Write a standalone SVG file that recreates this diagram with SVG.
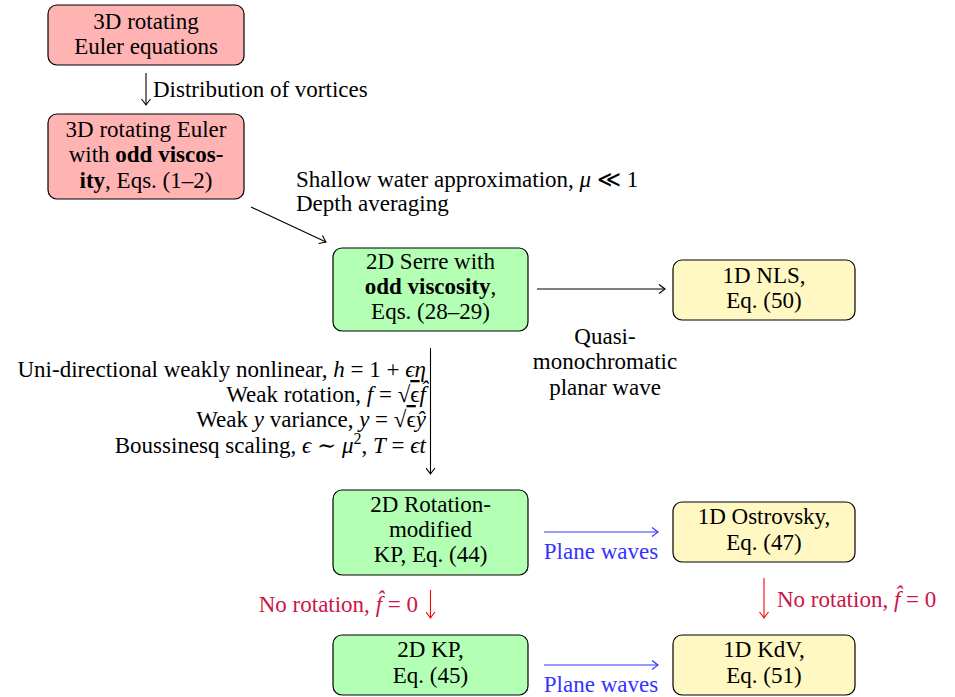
<svg xmlns="http://www.w3.org/2000/svg" width="955" height="697" viewBox="0 0 955 697" font-family="'Liberation Serif', 'Times New Roman', 'DejaVu Serif', serif" font-size="23">
<defs>
<style>
.c{text-anchor:middle}
.r{text-anchor:end}
.b{font-weight:bold}
.i{font-style:italic}
.box{stroke:#000;stroke-width:1.2}
.red{fill:#ffb3b3}
.green{fill:#b3ffb3}
.yel{fill:#fff8c2}
.ln{fill:none;stroke:#000;stroke-width:1.1}
.bl{stroke:#3333ff}
.rd{stroke:#ff0000}
.tb{fill:#3333ff}
.tr{fill:#cc1447}
</style>
<marker id="ak" viewBox="-8 -5 10 10" refX="0" refY="0" markerWidth="10" markerHeight="10" markerUnits="userSpaceOnUse" orient="auto">
<path d="M-6,-4.5 Q-1.5,-1 0,0 Q-1.5,1 -6,4.5" fill="none" stroke="#000" stroke-width="1.1"/>
</marker>
<marker id="ab" viewBox="-8 -5 10 10" refX="0" refY="0" markerWidth="10" markerHeight="10" markerUnits="userSpaceOnUse" orient="auto">
<path d="M-6,-4.5 Q-1.5,-1 0,0 Q-1.5,1 -6,4.5" fill="none" stroke="#3333ff" stroke-width="1.1"/>
</marker>
<marker id="ar" viewBox="-8 -5 10 10" refX="0" refY="0" markerWidth="10" markerHeight="10" markerUnits="userSpaceOnUse" orient="auto">
<path d="M-6,-4.5 Q-1.5,-1 0,0 Q-1.5,1 -6,4.5" fill="none" stroke="#ff0000" stroke-width="1.1"/>
</marker>
</defs>
<rect width="955" height="697" fill="#fff"/>

<g id="connectors">
<g id="e-A-B">
<line class="ln" x1="146" y1="73" x2="146" y2="105" marker-end="url(#ak)"/>
<text x="153" y="97">Distribution of vortices</text>
</g>
<g id="e-B-C">
<line class="ln" x1="251" y1="207" x2="326" y2="242" marker-end="url(#ak)"/>
<text x="296" y="187">Shallow water approximation, <tspan class="i">μ</tspan> ≪ 1</text>
<text x="296" y="211">Depth averaging</text>
</g>
<g id="e-C-D">
<line class="ln" x1="537" y1="289" x2="665" y2="289" marker-end="url(#ak)"/>
<text class="c" x="605" y="344">Quasi-</text>
<text class="c" x="605" y="369">monochromatic</text>
<text class="c" x="605" y="395">planar wave</text>
</g>
<g id="e-C-E">
<line class="ln" x1="430.5" y1="348" x2="430.5" y2="474" marker-end="url(#ak)"/>
<text class="r" x="426" y="377">Uni-directional weakly nonlinear, <tspan class="i">h</tspan> = 1 + <tspan class="i">ϵη</tspan></text>
<text class="r" x="426" y="402">Weak rotation, <tspan class="i">f</tspan> = √<tspan text-decoration="overline">ϵ</tspan><tspan class="i">f̂</tspan></text>
<text class="r" x="426" y="427">Weak <tspan class="i">y</tspan> variance, <tspan class="i">y</tspan> = √<tspan text-decoration="overline">ϵ</tspan><tspan class="i">ŷ</tspan></text>
<text class="r" x="426" y="453">Boussinesq scaling, <tspan class="i">ϵ</tspan> ∼ <tspan class="i">μ</tspan><tspan font-size="16" dy="-9">2</tspan><tspan dy="9">, </tspan><tspan class="i">T</tspan> = <tspan class="i">ϵt</tspan></text>
</g>
<g id="e-E-F">
<line class="ln bl" x1="544" y1="532" x2="658" y2="532" marker-end="url(#ab)"/>
<text class="c tb" x="601" y="559">Plane waves</text>
</g>
<g id="e-E-G">
<line class="ln rd" x1="430.5" y1="590" x2="430.5" y2="618" marker-end="url(#ar)"/>
<text class="r tr" x="418" y="612">No rotation, <tspan class="i">f̂</tspan> = 0</text>
</g>
<g id="e-F-H">
<line class="ln rd" x1="764" y1="578" x2="764" y2="618" marker-end="url(#ar)"/>
<text class="tr" x="777" y="607">No rotation, <tspan class="i">f̂</tspan> = 0</text>
</g>
<g id="e-G-H">
<line class="ln bl" x1="544" y1="665" x2="658" y2="665" marker-end="url(#ab)"/>
<text class="c tb" x="601" y="692">Plane waves</text>
</g>
</g>

<g id="n-A">
<rect class="box red" x="48" y="5" width="196" height="60" rx="9"/>
<text class="c" x="146" y="29">3D rotating</text>
<text class="c" x="146" y="54">Euler equations</text>
</g>
<g id="n-B">
<rect class="box red" x="48" y="114" width="196" height="85" rx="9"/>
<text class="c" x="146" y="137">3D rotating Euler</text>
<text class="c" x="146" y="162">with <tspan class="b">odd viscos-</tspan></text>
<text class="c" x="146" y="188"><tspan class="b">ity</tspan>, Eqs. (1–2)</text>
</g>
<g id="n-C">
<rect class="box green" x="333" y="248" width="195" height="83" rx="9"/>
<text class="c" x="430.5" y="269">2D Serre with</text>
<text class="c" x="430.5" y="294"><tspan class="b">odd viscosity</tspan>,</text>
<text class="c" x="430.5" y="319">Eqs. (28–29)</text>
</g>
<g id="n-D">
<rect class="box yel" x="673" y="260" width="182" height="60" rx="9"/>
<text class="c" x="764" y="283">1D NLS,</text>
<text class="c" x="764" y="308">Eq. (50)</text>
</g>
<g id="n-E">
<rect class="box green" x="333" y="490" width="195" height="85" rx="9"/>
<text class="c" x="430.5" y="512">2D Rotation-</text>
<text class="c" x="430.5" y="537">modified</text>
<text class="c" x="430.5" y="562">KP, Eq. (44)</text>
</g>
<g id="n-F">
<rect class="box yel" x="673" y="502" width="182" height="60" rx="9"/>
<text class="c" x="764" y="524">1D Ostrovsky,</text>
<text class="c" x="764" y="550">Eq. (47)</text>
</g>
<g id="n-G">
<rect class="box green" x="333" y="635" width="195" height="60" rx="9"/>
<text class="c" x="430.5" y="657">2D KP,</text>
<text class="c" x="430.5" y="683">Eq. (45)</text>
</g>
<g id="n-H">
<rect class="box yel" x="673" y="635" width="182" height="60" rx="9"/>
<text class="c" x="764" y="657">1D KdV,</text>
<text class="c" x="764" y="683">Eq. (51)</text>
</g>
</svg>
